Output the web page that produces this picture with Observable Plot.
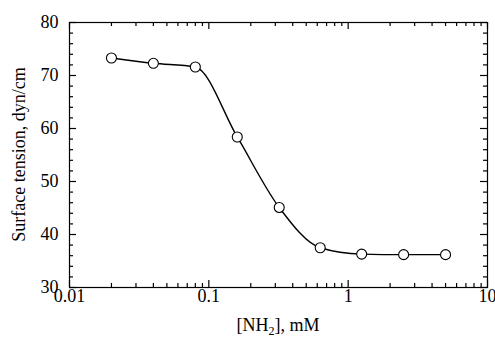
<!DOCTYPE html>
<html>
<head>
<meta charset="utf-8">
<script src="https://cdn.jsdelivr.net/npm/d3@7"></script>
<script src="https://cdn.jsdelivr.net/npm/@observablehq/plot@0.6"></script>
<style>
  html, body { margin: 0; padding: 0; background: #fff; }
  svg { display: block; }
</style>
</head>
<body>
<div id="chart"></div>
<script>
const concentration = [0.02, 0.04, 0.08, 0.16, 0.32, 0.63, 1.25, 2.5, 5];
const tension = [73.3, 72.3, 71.6, 58.4, 45.1, 37.5, 36.3, 36.2, 36.2];
const xTickValues = [0.01, 0.1, 1, 10];
const xTickLabels = ["0.01", "0.1", "1", "10"];
const yTickValues = [30, 40, 50, 60, 70, 80];
const xLabel = ["[NH", "2", "], mM"];
const yLabel = "Surface tension, dyn/cm";

const data = concentration.map((c, i) => ({c, t: tension[i]}));

const W = 495, H = 339;
const mL = 69, mR = 8, mT = 22, mB = 52;
const pw = W - mL - mR, ph = H - mT - mB;
const font = "Liberation Serif, Times New Roman, serif";

const xMinor = [];
for (let e = -2; e < 1; e++) for (let k = 2; k <= 9; k++) xMinor.push(k * Math.pow(10, e));
const yMinor = d3.range(30, 80.1, 2).filter(v => v % 10 !== 0);

const majL = 7, minL = 4;
const xFmt = d => {
  let best = 0;
  xTickValues.forEach((v, i) => { if (Math.abs(Math.log10(v) - Math.log10(d)) < Math.abs(Math.log10(xTickValues[best]) - Math.log10(d))) best = i; });
  return xTickLabels[best];
};

const chart = Plot.plot({
  width: W, height: H,
  marginLeft: mL, marginRight: mR, marginTop: mT, marginBottom: mB,
  style: {fontFamily: font, fontSize: "18px", color: "#000", background: "#fff"},
  x: {type: "log", domain: [0.01, 10], axis: null},
  y: {domain: [30, 80], axis: null},
  marks: [
    Plot.frame({stroke: "#000", strokeWidth: 1.2}),
    Plot.tickX(xTickValues, {x: d => d, insetTop: ph - majL, stroke: "#000", strokeWidth: 1.2}),
    Plot.tickX(xTickValues, {x: d => d, insetBottom: ph - majL, stroke: "#000", strokeWidth: 1.2}),
    Plot.tickX(xMinor, {x: d => d, insetTop: ph - minL, stroke: "#000", strokeWidth: 1.2}),
    Plot.tickX(xMinor, {x: d => d, insetBottom: ph - minL, stroke: "#000", strokeWidth: 1.2}),
    Plot.tickY(yTickValues, {y: d => d, insetRight: pw - majL, stroke: "#000", strokeWidth: 1.2}),
    Plot.tickY(yTickValues, {y: d => d, insetLeft: pw - majL, stroke: "#000", strokeWidth: 1.2}),
    Plot.tickY(yMinor, {y: d => d, insetRight: pw - minL, stroke: "#000", strokeWidth: 1.2}),
    Plot.tickY(yMinor, {y: d => d, insetLeft: pw - minL, stroke: "#000", strokeWidth: 1.2}),
    Plot.text(xTickValues, {x: d => d, frameAnchor: "bottom", dy: 14, text: xFmt, fontFamily: font, fontSize: 18, fill: "#000"}),
    Plot.text(yTickValues, {y: d => d, frameAnchor: "left", dx: -11, textAnchor: "end", text: d => String(d), fontFamily: font, fontSize: 18, fill: "#000"}),
    Plot.line(data, {x: "c", y: "t", curve: "monotone-x", stroke: "#000", strokeWidth: 1.4}),
    Plot.dot(data, {x: "c", y: "t", r: 5, fill: "#fff", stroke: "#000", strokeWidth: 1.1})
  ]
});

const svg = d3.select(chart);
const xt = svg.append("text")
  .attr("x", mL + pw / 2)
  .attr("y", 331)
  .attr("text-anchor", "middle")
  .attr("font-family", font)
  .attr("font-size", 18)
  .attr("fill", "#000");
xt.append("tspan").text(xLabel[0]);
xt.append("tspan").attr("font-size", 12).attr("dy", 4).text(xLabel[1]);
xt.append("tspan").attr("dy", -4).text(xLabel[2]);
svg.append("text")
  .attr("transform", `translate(25, ${mT + ph / 2}) rotate(-90)`)
  .attr("text-anchor", "middle")
  .attr("font-family", font)
  .attr("font-size", 18)
  .attr("fill", "#000")
  .text(yLabel);

document.getElementById("chart").appendChild(chart);
</script>
</body>
</html>
